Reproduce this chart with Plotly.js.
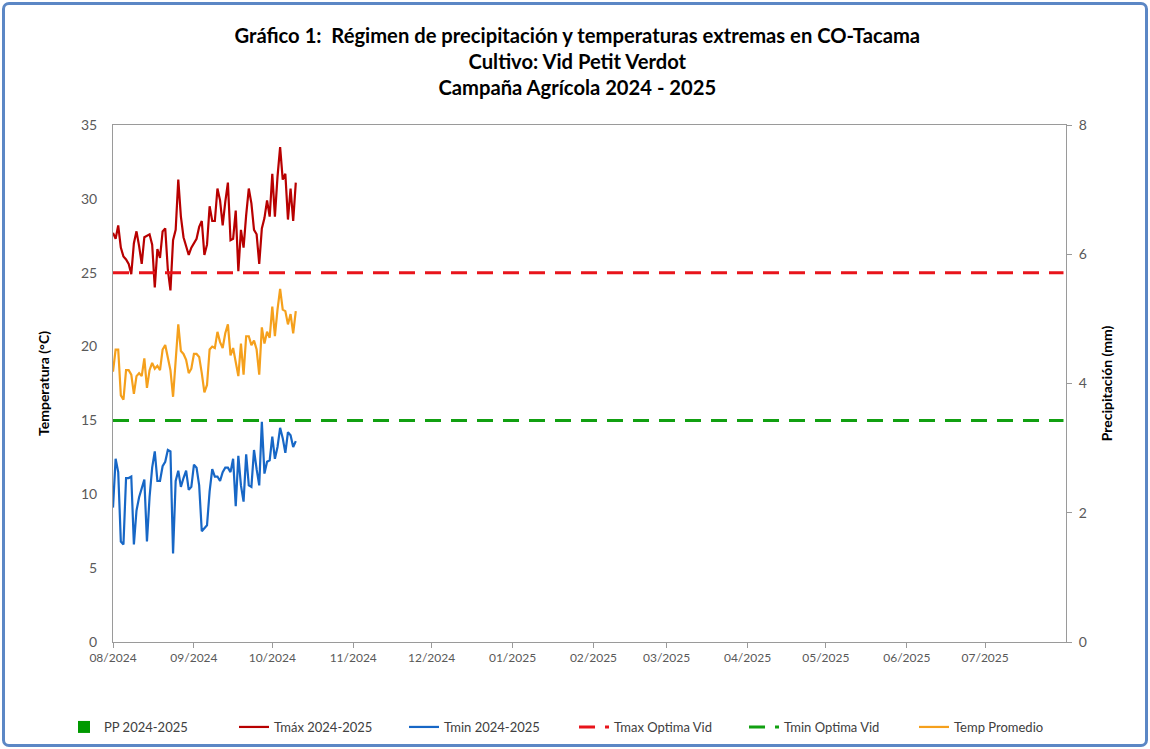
<!DOCTYPE html>
<html>
<head>
<meta charset="utf-8">
<script src="https://cdn.plot.ly/plotly-3.0.1.min.js"></script>
<style>
html,body{margin:0;padding:0;background:#fff;}
#wrap{position:absolute;left:2px;top:2px;width:1146px;height:745px;box-sizing:border-box;border:3px solid #5B87C5;border-radius:7px;background:#fff;}
#chart{position:absolute;left:-5px;top:-5px;width:1150px;height:749px;}
</style>
</head>
<body>
<div id="wrap"><div id="chart"></div></div>
<script>
// ---- Data ----
const startDate = "2024-08-01";           // first day of observations
const seasonStart = "2024-08-01";
const seasonEnd = "2025-07-31";
const tmax = [27.7,27.3,28.2,26.7,26.1,25.9,25.6,24.9,27.0,27.8,26.8,25.6,27.4,27.5,27.6,26.9,
  24.0,26.6,26.0,27.8,28.0,25.2,23.8,27.2,27.9,31.3,28.8,27.4,26.7,26.2,26.7,27.0,27.3,28.1,28.5,
  26.2,26.9,29.5,28.5,28.5,30.7,29.9,28.2,29.8,31.1,27.2,27.3,29.2,25.1,27.9,26.7,28.9,30.7,29.7,
  27.9,27.6,25.6,28.0,28.7,29.9,28.8,31.7,28.8,31.5,33.5,31.3,31.7,28.6,30.7,28.5,31.1];
const tavg = [18.3,19.8,19.8,16.7,16.4,18.4,18.4,18.1,16.8,18.0,18.2,18.0,19.2,17.2,18.4,18.9,
  18.5,18.7,18.4,19.8,20.1,19.2,18.4,16.6,19.3,21.5,19.7,19.5,19.1,18.2,18.5,19.5,19.5,19.3,18.2,
  16.9,17.4,19.8,20.0,19.9,21.0,20.3,19.9,20.9,21.5,19.4,19.9,19.0,18.0,20.2,18.1,20.7,20.7,20.1,
  20.4,19.8,18.1,21.3,20.2,21.0,20.6,22.7,20.7,22.5,23.9,22.5,22.4,21.5,22.2,20.9,22.4];
const tmin = [9.1,12.4,11.5,6.8,6.6,11.1,11.1,11.2,6.6,8.9,9.8,10.4,11.0,6.8,9.8,11.8,
  12.9,10.9,10.9,11.9,12.2,13.0,12.9,6.0,10.9,11.6,10.5,11.1,11.6,10.3,10.5,12.0,11.8,10.6,7.5,
  7.7,7.9,10.2,11.7,11.2,11.2,10.9,11.5,11.8,11.8,11.5,12.4,9.2,12.6,10.6,9.5,12.7,10.6,10.5,
  13.0,11.7,10.6,14.9,11.4,12.2,12.3,13.9,12.4,13.2,14.5,13.8,12.8,14.2,14.0,13.2,13.6];
const pp = [0,0,0,0,0,0,0,0,0,0,0,0,0,0,0,0,0,0,0,0,0,0,0,0,0,0,0,0,0,0,0,0,0,0,0,0,
  0,0,0,0,0,0,0,0,0,0,0,0,0,0,0,0,0,0,0,0,0,0,0,0,0,0,0,0,0,0,0,0,0,0,0];
const tmaxOptima = 25;
const tminOptima = 15;
const seriesNames = ["PP 2024-2025","Tmáx 2024-2025","Tmin 2024-2025","Tmax Optima Vid","Tmin Optima Vid","Temp Promedio"];
const titleLines = ["Gráfico 1:  Régimen de precipitación y temperaturas extremas en CO-Tacama",
  "Cultivo: Vid Petit Verdot","Campaña Agrícola 2024 - 2025"];

// ---- Helpers ----
function dayList(start, n){
  const out=[]; const d0=new Date(start+"T00:00:00Z");
  for(let i=0;i<n;i++){const d=new Date(d0.getTime()+i*86400000);out.push(d.toISOString().slice(0,10));}
  return out;
}
function dayRange(a,b){
  const n=Math.round((new Date(b+"T00:00:00Z")-new Date(a+"T00:00:00Z"))/86400000)+1;
  return dayList(a,n);
}
const obsDays = dayList(startDate, tmax.length);
const seasonDays = dayRange(seasonStart, seasonEnd);

const font = "Lato, 'Open Sans', sans-serif";
const traces = [
  {type:"bar", name:seriesNames[0], x:obsDays, y:pp, yaxis:"y2", marker:{color:"#009900"}},
  {type:"scatter", mode:"lines", name:seriesNames[1], x:obsDays, y:tmax, line:{color:"#B80000", width:2.2}},
  {type:"scatter", mode:"lines", name:seriesNames[2], x:obsDays, y:tmin, line:{color:"#1767C6", width:2.2}},
  {type:"scatter", mode:"lines", name:seriesNames[3], x:seasonDays, y:seasonDays.map(()=>tmaxOptima), line:{color:"#E8141B", width:3, dash:"16px,10px"}},
  {type:"scatter", mode:"lines", name:seriesNames[4], x:seasonDays, y:seasonDays.map(()=>tminOptima), line:{color:"#11A011", width:3, dash:"16px,10px"}},
  {type:"scatter", mode:"lines", name:seriesNames[5], x:obsDays, y:tavg, line:{color:"#F5A01C", width:2.2}}
];

const layout = {
  width:1150, height:749,
  paper_bgcolor:"rgba(0,0,0,0)", plot_bgcolor:"#fff",
  font:{family:font, color:"#404040"},
  margin:{l:113, r:84, t:125, b:107, autoexpand:false},
  title:{text:titleLines.join("<br>"), x:0.502, xanchor:"center", y:0.943, yanchor:"top",
    font:{family:font, size:20.2, color:"#000", weight:"bold"}},
  showlegend:true,
  legend:{orientation:"h", x:-0.0514, xanchor:"left", y:-0.1644, yanchor:"middle",
    entrywidth:125, entrywidthmode:"pixels",
    font:{family:font, size:13, color:"#404040"}, traceorder:"normal"},
  xaxis:{type:"date", range:[seasonStart, "2025-07-31T23:00"], dtick:"M1", tick0:"2024-08-01",
    tickformat:"%m/%Y", showgrid:false, showline:true, linecolor:"#9a9a9a", linewidth:1,
    mirror:true, ticks:"outside", ticklen:5, tickcolor:"#9a9a9a",
    tickfont:{family:font, size:12, color:"#595959"}, zeroline:false},
  yaxis:{range:[0,35], dtick:5, showgrid:false, showline:true, linecolor:"#9a9a9a", linewidth:1,
    ticks:"", ticklabelstandoff:12, zeroline:false,
    tickfont:{family:font, size:14, color:"#595959"},
    title:{text:"Temperatura (°C)", standoff:28, font:{family:font, size:14, color:"#000", weight:"bold"}}},
  yaxis2:{range:[0,8], dtick:2, overlaying:"y", side:"right", showgrid:false, showline:true,
    linecolor:"#9a9a9a", linewidth:1, ticks:"outside", ticklen:5, tickcolor:"#9a9a9a", zeroline:false,
    ticklabelstandoff:4,
    tickfont:{family:font, size:14, color:"#595959"},
    title:{text:"Precipitación (mm)", standoff:16, font:{family:font, size:14, color:"#000", weight:"bold"}}}
};

Plotly.newPlot("chart", traces, layout, {displayModeBar:false, staticPlot:true});
</script>
</body>
</html>
